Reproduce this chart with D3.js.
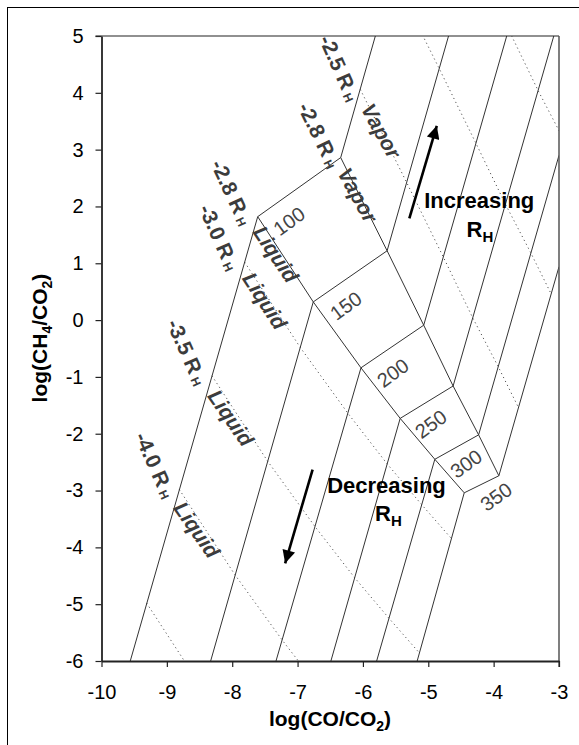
<!DOCTYPE html>
<html><head><meta charset="utf-8">
<script src="https://cdn.jsdelivr.net/npm/d3@7"></script>
<style>
body{margin:0;background:#fff}
svg{display:block}
text{font-family:"Liberation Sans",Arial,Helvetica,sans-serif}
</style>
</head><body>
<svg id="c" width="579" height="745"></svg>
<script>
// ---- data ----
const temps = [100, 150, 200, 250, 300, 350];
// RH = -2.8 liquid and vapour points at each temperature
const liqX = [-7.61, -6.76, -6.03, -5.43, -4.90, -4.45];
const liqY = [1.82, 0.32, -0.84, -1.73, -2.45, -3.04];
const vapX = [-6.34, -5.63, -5.07, -4.62, -4.23, -3.92];
const vapY = [2.86, 1.22, -0.09, -1.16, -2.02, -2.74];
// isotherm end points at the frame
const liqEndX = [-9.56, -8.33, -7.33, -6.49, -5.79, -5.17];
const liqEndY = [-6, -6, -6, -6, -6, -6];
const vapEndX = [-5.81, -4.69, -3.80, -3.08, -3.00, -3.00];
const vapEndY = [5, 5, 5, 5, 2.90, 0.94];
// dotted constant-RH lines (liquid)
const liqRH = ["-3.0", "-3.5", "-4.0", "-4.5"];
const liqDotX = [
  [-7.81, -6.96, -6.23, -5.63, -5.10, -4.65],
  [-8.31, -7.46, -6.73, -6.13, -5.60, -5.15],
  [-8.81, -7.96, -7.23, -6.63, -6.10, -5.65],
  [-9.31, -8.46, -7.73, -7.13, -6.60, -6.15]
];
const liqDotY = [
  [1.02, -0.48, -1.64, -2.53, -3.25, -3.84],
  [-0.98, -2.48, -3.64, -4.53, -5.25, -5.84],
  [-2.98, -4.48, -5.64, -6.53, -7.25, -7.84],
  [-4.98, -6.48, -7.64, -8.53, -9.25, -9.84]
];
// dotted constant-RH lines (vapour)
const vapRH = ["-2.5", "-2.0", "-1.5"];
const vapDotX = [
  [-6.04, -5.33, -4.77, -4.32, -3.93, -3.62],
  [-5.54, -4.83, -4.27, -3.82, -3.43, -3.12],
  [-5.04, -4.33, -3.77, -3.32, -2.93, -2.62]
];
const vapDotY = [
  [4.06, 2.42, 1.11, 0.04, -0.82, -1.54],
  [6.06, 4.42, 3.11, 2.04, 1.18, 0.46],
  [8.06, 6.42, 5.11, 4.04, 3.18, 2.46]
];
const xTicks = [-10, -9, -8, -7, -6, -5, -4, -3];
const yTicks = [-6, -5, -4, -3, -2, -1, 0, 1, 2, 3, 4, 5];

// label texts
const rhLabels = ["-2.5", "-2.8", "-2.8", "-3.0", "-3.5", "-4.0"];
const phaseLabels = ["Vapor", "Vapor", "Liquid", "Liquid", "Liquid", "Liquid"];

// ---- drawing ----
const svg = d3.select("#c");
const x = d3.scaleLinear().domain([-10, -3]).range([101.5, 559]);
const y = d3.scaleLinear().domain([-6, 5]).range([661, 36]);

// outer border
svg.append("rect").attr("x", 7.5).attr("y", 7.5).attr("width", 700).attr("height", 800)
  .attr("fill", "none").attr("stroke", "#000").attr("stroke-width", 1);

svg.append("defs").append("clipPath").attr("id", "pc").append("rect")
  .attr("x", x(-10)).attr("y", y(5)).attr("width", x(-3) - x(-10)).attr("height", y(-6) - y(5));

const g = svg.append("g").attr("clip-path", "url(#pc)");
const line = d3.line().x(d => x(d[0])).y(d => y(d[1]));
const solid = {stroke: "#333", w: 1};

// dotted lines
liqDotX.forEach((xs, i) => {
  g.append("path").attr("d", line(xs.map((v, j) => [v, liqDotY[i][j]])))
    .attr("fill", "none").attr("stroke", "#555").attr("stroke-width", 1)
    .attr("stroke-dasharray", "1.2,3.2");
});
vapDotX.forEach((xs, i) => {
  g.append("path").attr("d", line(xs.map((v, j) => [v, vapDotY[i][j]])))
    .attr("fill", "none").attr("stroke", "#555").attr("stroke-width", 1)
    .attr("stroke-dasharray", "1.2,3.2");
});

// isotherms
temps.forEach((t, i) => {
  g.append("path").attr("d", line([[liqX[i], liqY[i]], [liqEndX[i], liqEndY[i]]]))
    .attr("fill", "none").attr("stroke", solid.stroke).attr("stroke-width", solid.w);
  g.append("path").attr("d", line([[vapX[i], vapY[i]], [vapEndX[i], vapEndY[i]]]))
    .attr("fill", "none").attr("stroke", solid.stroke).attr("stroke-width", solid.w);
  g.append("path").attr("d", line([[liqX[i], liqY[i]], [vapX[i], vapY[i]]]))
    .attr("fill", "none").attr("stroke", solid.stroke).attr("stroke-width", solid.w);
});
g.append("path").attr("d", line(liqX.map((v, i) => [v, liqY[i]])))
  .attr("fill", "none").attr("stroke", solid.stroke).attr("stroke-width", solid.w);
g.append("path").attr("d", line(vapX.map((v, i) => [v, vapY[i]])))
  .attr("fill", "none").attr("stroke", solid.stroke).attr("stroke-width", solid.w);

// frame top/right
svg.append("line").attr("x1", x(-10) - 6).attr("x2", x(-3)).attr("y1", y(5)).attr("y2", y(5))
  .attr("stroke", "#222").attr("stroke-width", 1.2);
svg.append("line").attr("x1", x(-3)).attr("x2", x(-3)).attr("y1", y(5)).attr("y2", y(-6) + 6)
  .attr("stroke", "#555").attr("stroke-width", 1.5);

// axes
const fs = 20;
const ax = svg.append("g").attr("transform", `translate(0,${y(-6)})`)
  .call(d3.axisBottom(x).tickValues(xTicks).tickFormat(d => String(d)).tickSize(6).tickSizeOuter(0).tickPadding(18));
const ay = svg.append("g").attr("transform", `translate(${x(-10)},0)`)
  .call(d3.axisLeft(y).tickValues(yTicks).tickFormat(d => String(d)).tickSize(6).tickSizeOuter(0).tickPadding(12));
[ax, ay].forEach(a => {
  a.select(".domain").attr("stroke", "#222").attr("stroke-width", 1.8);
  a.selectAll(".tick line").attr("stroke", "#222").attr("stroke-width", 1.2);
  a.selectAll(".tick text").attr("font-size", fs).attr("fill", "#000")
    .style("font-family", '"Liberation Sans",Arial,sans-serif');
});

// axis titles
const xt = svg.append("text").attr("x", 330).attr("y", 726).attr("text-anchor", "middle")
  .attr("font-size", 21).attr("font-weight", "bold");
xt.append("tspan").text("log(CO/CO");
xt.append("tspan").text("2").attr("font-size", 14).attr("dy", 5);
xt.append("tspan").text(")").attr("dy", -5);

const yt = svg.append("text").attr("transform", `translate(47,338) rotate(-90)`).attr("text-anchor", "middle")
  .attr("font-size", 21).attr("font-weight", "bold");
yt.append("tspan").text("log(CH");
yt.append("tspan").text("4").attr("font-size", 14).attr("dy", 5);
yt.append("tspan").text("/CO").attr("dy", -5);
yt.append("tspan").text("2").attr("font-size", 14).attr("dy", 5);
yt.append("tspan").text(")").attr("dy", -5);

// rotated RH labels
const labCol = "#3c3c3c";
function rhLabel(txt, px, py, rot) {
  const t = svg.append("text").attr("transform", `translate(${x(px)},${y(py)}) rotate(${rot})`)
    .attr("text-anchor", "middle").attr("dominant-baseline", "central")
    .attr("font-size", 21).attr("font-weight", "bold").attr("fill", labCol);
  t.append("tspan").text(txt + " R");
  t.append("tspan").text("H").attr("font-size", 12).attr("dx", 4).attr("dy", 5);
}
function phaseLabel(txt, px, py, rot) {
  svg.append("text").attr("transform", `translate(${x(px)},${y(py)}) rotate(${rot})`)
    .attr("text-anchor", "middle").attr("dominant-baseline", "central")
    .attr("font-size", 21).attr("font-weight", "bold").attr("font-style", "italic")
    .attr("fill", labCol).text(txt);
}
rhLabel(rhLabels[0], -6.35, 4.44, 66);
phaseLabel(phaseLabels[0], -5.72, 3.33, 61);
rhLabel(rhLabels[1], -6.66, 3.26, 64);
phaseLabel(phaseLabels[1], -6.08, 2.20, 61);
rhLabel(rhLabels[2], -8.00, 2.25, 65);
phaseLabel(phaseLabels[2], -7.33, 1.16, 56);
rhLabel(rhLabels[3], -8.19, 1.46, 66);
phaseLabel(phaseLabels[3], -7.50, 0.34, 57);
rhLabel(rhLabels[4], -8.68, -0.56, 66);
phaseLabel(phaseLabels[4], -8.02, -1.72, 55);
rhLabel(rhLabels[5], -9.17, -2.55, 66);
phaseLabel(phaseLabels[5], -8.54, -3.69, 55);

// temperature labels
const tLabX = [-7.13, -6.26, -5.54, -4.96, -4.42, -3.96];
const tLabY = [1.74, 0.25, -0.93, -1.83, -2.53, -3.11];
temps.forEach((t, i) => {
  svg.append("text").attr("transform", `translate(${x(tLabX[i])},${y(tLabY[i])}) rotate(-36)`)
    .attr("text-anchor", "middle").attr("dominant-baseline", "central")
    .attr("font-size", 20).attr("fill", "#444").text(t);
});

// arrows
const defs = svg.select("defs");
defs.append("marker").attr("id", "ah").attr("viewBox", "0 0 10 10").attr("refX", 10).attr("refY", 5)
  .attr("markerWidth", 8).attr("markerHeight", 5).attr("markerUnits", "strokeWidth").attr("orient", "auto")
  .append("path").attr("d", "M0,0 L10,5 L0,10 Z").attr("fill", "#000");
const arrows = [[[-5.29, 1.79], [-4.87, 3.42]], [[-6.77, -2.63], [-7.19, -4.28]]];
arrows.forEach(a => {
  svg.append("path").attr("d", line(a)).attr("stroke", "#000").attr("stroke-width", 2.6)
    .attr("fill", "none").attr("marker-end", "url(#ah)");
});

// Increasing / Decreasing text
function bigLabel(word, cx, by, cx2, by2) {
  svg.append("text").attr("x", x(cx)).attr("y", y(by)).attr("text-anchor", "middle")
    .attr("font-size", 22).attr("font-weight", "bold").attr("fill", "#000").text(word);
  const t = svg.append("text").attr("x", x(cx2)).attr("y", y(by2)).attr("text-anchor", "middle")
    .attr("font-size", 22).attr("font-weight", "bold").attr("fill", "#000");
  t.append("tspan").text("R");
  t.append("tspan").text("H").attr("font-size", 15).attr("dy", 5);
}
bigLabel("Increasing", -4.22, 1.97, -4.21, 1.47);
bigLabel("Decreasing", -5.64, -3.04, -5.61, -3.53);
</script>
</body></html>
